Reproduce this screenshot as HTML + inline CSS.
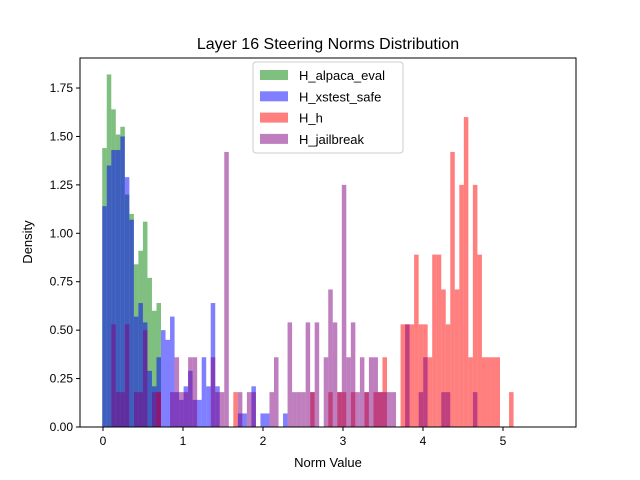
<!DOCTYPE html>
<html><head><meta charset="utf-8"><style>
body{margin:0;background:#fff;font-family:"Liberation Sans",sans-serif;}
svg{display:block}
text{font-family:"Liberation Sans",sans-serif;fill:#000}
</style></head><body>
<svg id="chart" width="640" height="480">
<rect x="0" y="0" width="640" height="480" fill="#fff"/>
<text x="328" y="49" font-size="16" text-anchor="middle">Layer 16 Steering Norms Distribution</text>
<g id="bars"></g>
<g id="axes"></g>
</svg>
<script>
const binStart = -0.0095;
const binWidth = 0.0565;
const seriesNames = ["H_alpaca_eval","H_xstest_safe","H_h","H_jailbreak"];
const greenVals = [1.44,1.82,1.64,1.51,1.55,1.2,1.10,0.84,0.91,1.06,0.77,0.60,0.64];
const blueVals = [1.14,1.35,1.43,1.43,1.50,1.29,1.07,0.57,0.64,0.54,0.29,0.21,0.36,0.50,0.45,0.57,0.18,0.14,0.21,0.29,0.14,0.14,0.36,0.21,0.64,0.21,0,0,0,0,0.07,0.07,0,0.21,0,0.07,0.07,0,0,0,0.07];
const redVals = [0,0,0,0,0,0,0,0,0,0,0,0,0.18,0,0,0,0,0,0,0,0,0,0,0,0,0,0,0,0,
 0.18,0,0,0,0,0,0,0,0,0,0,0,0,0,0,0,0,0.18,0,0,0,0.18,0,0.18,0.18,0,0.18,0,0,0.18,0,0.18,0.18,0.36,0,0,0,
 0.53,0.53,0.53,0.89,0.53,0.53,0.36,0.89,0.89,0.71,0.53,1.42,0.71,1.25,1.6,0.36,1.25,0.89,0.36,0.36,0.36,0.36,0,0,0.18];
const purpleVals = [0,0,0.53,0.18,0.18,0.53,0,0.18,0.18,0.5,0,0.18,0.18,0,0,0.18,0.36,0.18,0.18,0.36,0.36,0,0,0,0.36,0.18,0.18,1.42,0,0,
 0.18,0,0.18,0.18,0,0,0,0.18,0.36,0,0,0.54,0.18,0.18,0.18,0.54,0.18,0.54,0,0.36,0.71,0.54,0.18,1.25,0.36,0.54,0.18,0.36,0.18,0.36,0.36,0.18,0.18,0.18,0.18,0,0,0.53,0,0,0.18,0.36,0,0,0,0.18,0.18,0,0,0,0,0,0.18];
const xTicks = [0,1,2,3,4,5];
const yTicks = [0,0.25,0.5,0.75,1.0,1.25,1.5,1.75];
const yTickLabels = ["0.00","0.25","0.50","0.75","1.00","1.25","1.50","1.75"];

const NS="http://www.w3.org/2000/svg";
const L=80,R=576,T=58,B=427;
function xs(v){return 103+80*v;}
function ys(d){return 427-193.7*d;}
const bars=document.getElementById('bars');
function draw(vals,color,name){
  vals.forEach((d,i)=>{
    if(!d) return;
    const x0=xs(binStart+i*binWidth), x1=xs(binStart+(i+1)*binWidth);
    const r=document.createElementNS(NS,'rect');
    r.setAttribute('x',x0);r.setAttribute('width',x1-x0);
    r.setAttribute('y',ys(d));r.setAttribute('height',B-ys(d));
    r.setAttribute('fill',color);
    
    
    bars.appendChild(r);
  });
}
draw(greenVals,'rgba(0,128,0,0.5)','alpaca-eval');
draw(blueVals,'rgba(0,0,255,0.5)','xstest-safe');
draw(redVals,'rgba(255,0,0,0.5)','h-h');
draw(purpleVals,'rgba(128,0,128,0.5)','jailbreak');

const ax=document.getElementById('axes');
let h=`<rect x="${L}" y="${T}" width="${R-L}" height="${B-T}" fill="none" stroke="#000" stroke-width="1"/>`;
xTicks.forEach(t=>{const x=xs(t);h+=`<line x1="${x}" y1="${B}" x2="${x}" y2="${B+4}" stroke="#000"/><text x="${x}" y="${B+18}" font-size="12" text-anchor="middle">${t}</text>`;});
yTicks.forEach((t,i)=>{const y=ys(t);h+=`<line x1="${L-4}" y1="${y}" x2="${L}" y2="${y}" stroke="#000"/><text x="${L-7}" y="${y+4}" font-size="12" text-anchor="end">${yTickLabels[i]}</text>`;});
h+=`<text x="328" y="467" font-size="13" text-anchor="middle">Norm Value</text>`;
h+=`<text x="32" y="242" font-size="13" text-anchor="middle" transform="rotate(-90 32 242)">Density</text>`;
h+=`<g><rect x="253" y="62" width="150" height="91" rx="3" fill="rgba(255,255,255,0.8)" stroke="#ccc"/>`;
const cols=['rgba(0,128,0,0.5)','rgba(0,0,255,0.5)','rgba(255,0,0,0.5)','rgba(128,0,128,0.5)'];
seriesNames.forEach((n,i)=>{const y=70+i*21.3;h+=`<g><rect x="260" y="${y}" width="28" height="10" fill="${cols[i]}"/><text x="299" y="${y+10}" font-size="13">${n}</text></g>`;});
h+=`</g>`;
ax.innerHTML=h;
</script>
</body></html>
